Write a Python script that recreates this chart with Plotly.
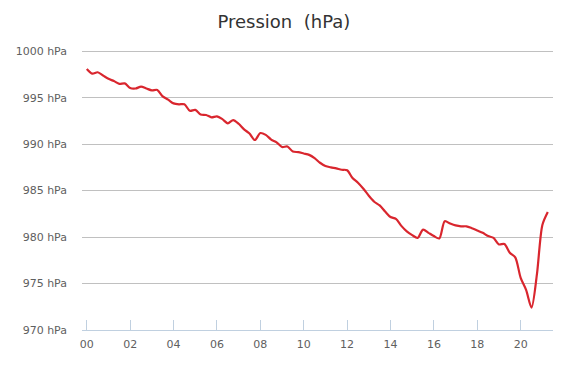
import plotly.graph_objects as go

# Time (units on the x axis) sampled every quarter unit
x_values = [i * 0.25 for i in range(86)]
pressure_hpa = [
    998.1, 997.6, 997.75, 997.4, 997.05, 996.8, 996.5, 996.55,
    996.05, 996.0, 996.2, 996.0, 995.8, 995.85, 995.15, 994.8,
    994.4, 994.3, 994.3, 993.6, 993.7, 993.2, 993.15, 992.9,
    993.0, 992.7, 992.25, 992.6, 992.2, 991.6, 991.15, 990.45,
    991.2, 991.0, 990.5, 990.2, 989.7, 989.75, 989.2, 989.15,
    989.0, 988.85, 988.5, 988.0, 987.65, 987.5, 987.4, 987.25,
    987.2, 986.35, 985.85, 985.2, 984.45, 983.8, 983.4, 982.75,
    982.15, 981.95, 981.2, 980.6, 980.2, 979.9, 980.8, 980.45,
    980.1, 979.85, 981.7, 981.45, 981.25, 981.15, 981.15, 980.95,
    980.7, 980.45, 980.1, 979.9, 979.2, 979.25, 978.3, 977.8,
    975.6, 974.3, 972.4, 976.0, 981.3, 982.7,
]

x_tick_vals = [0, 2, 4, 6, 8, 10, 12, 14, 16, 18, 20]
x_tick_text = ["00", "02", "04", "06", "08", "10", "12", "14", "16", "18", "20"]
y_tick_vals = [970, 975, 980, 985, 990, 995, 1000]
y_tick_text = ["970 hPa", "975 hPa", "980 hPa", "985 hPa", "990 hPa", "995 hPa", "1000 hPa"]

title_text = "Pression  (hPa)"

fig = go.Figure()
fig.add_trace(go.Scatter(
    x=x_values, y=pressure_hpa, mode="lines",
    line=dict(color="#d9262e", width=2.2, shape="spline", smoothing=0.8),
    hoverinfo="skip", showlegend=False,
))

fig.update_layout(
    width=577, height=375,
    margin=dict(l=82, r=24, t=50, b=45),
    paper_bgcolor="white", plot_bgcolor="white",
    font=dict(family="DejaVu Sans, Lucida Grande, sans-serif", color="#606060", size=11),
    title=dict(text=title_text, x=0.492, xref="container", xanchor="center",
               y=1 - 22 / 375, yref="container", yanchor="middle",
               font=dict(size=18, color="#333333")),
    xaxis=dict(
        range=[-0.22, 21.49], tickmode="array",
        tickvals=x_tick_vals, ticktext=x_tick_text,
        showgrid=False, zeroline=False,
        showline=True, linecolor="#c0d0e0", linewidth=1,
        ticks="inside", ticklen=10, tickcolor="#c0d0e0", tickwidth=1,
        tickfont=dict(size=11, color="#606060"),
        ticklabelstandoff=4,
    ),
    yaxis=dict(
        range=[969.98, 1000.15], tickmode="array",
        tickvals=y_tick_vals, ticktext=y_tick_text,
        showgrid=True, gridcolor="#c0c0c0", gridwidth=1,
        zeroline=False, showline=False, ticks="",
        tickfont=dict(size=11, color="#606060"),
        ticklabelstandoff=14,
    ),
)

fig.write_html("out.html", config={"displayModeBar": False},
               post_script="document.body.style.margin='0';document.body.style.padding='0';")
